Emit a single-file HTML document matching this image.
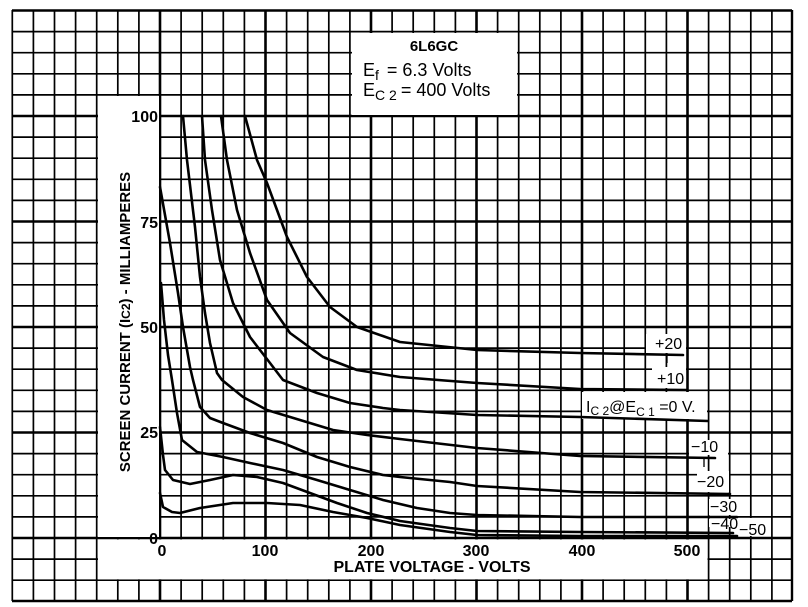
<!DOCTYPE html>
<html><head><meta charset="utf-8"><style>
html,body{margin:0;padding:0;background:#fff}
svg{display:block}
text{font-family:"Liberation Sans",sans-serif;fill:#000}
.b{font-weight:bold}
</style></head><body>
<svg width="808" height="607" viewBox="0 0 808 607" xmlns="http://www.w3.org/2000/svg">
<rect width="808" height="607" fill="#fff"/>
<g stroke="#000" stroke-width="1.7">
<line x1="12.3" y1="10" x2="12.3" y2="601"/><line x1="33.4" y1="10" x2="33.4" y2="601"/><line x1="54.5" y1="10" x2="54.5" y2="601"/><line x1="75.6" y1="10" x2="75.6" y2="601"/><line x1="96.7" y1="10" x2="96.7" y2="601"/><line x1="117.8" y1="10" x2="117.8" y2="601"/><line x1="138.9" y1="10" x2="138.9" y2="601"/>
<line x1="160" y1="10" x2="160" y2="601" stroke-width="2.6"/>
<line x1="181.1" y1="10" x2="181.1" y2="601"/><line x1="202.2" y1="10" x2="202.2" y2="601"/><line x1="223.3" y1="10" x2="223.3" y2="601"/><line x1="244.4" y1="10" x2="244.4" y2="601"/>
<line x1="265.5" y1="10" x2="265.5" y2="601" stroke-width="2.6"/>
<line x1="286.6" y1="10" x2="286.6" y2="601"/><line x1="307.7" y1="10" x2="307.7" y2="601"/><line x1="328.8" y1="10" x2="328.8" y2="601"/><line x1="349.9" y1="10" x2="349.9" y2="601"/>
<line x1="371" y1="10" x2="371" y2="601" stroke-width="2.6"/>
<line x1="392.1" y1="10" x2="392.1" y2="601"/><line x1="413.2" y1="10" x2="413.2" y2="601"/><line x1="434.3" y1="10" x2="434.3" y2="601"/><line x1="455.4" y1="10" x2="455.4" y2="601"/>
<line x1="476.5" y1="10" x2="476.5" y2="601" stroke-width="2.6"/>
<line x1="497.6" y1="10" x2="497.6" y2="601"/><line x1="518.7" y1="10" x2="518.7" y2="601"/><line x1="539.8" y1="10" x2="539.8" y2="601"/><line x1="560.9" y1="10" x2="560.9" y2="601"/>
<line x1="582" y1="10" x2="582" y2="601" stroke-width="2.6"/>
<line x1="603.1" y1="10" x2="603.1" y2="601"/><line x1="624.2" y1="10" x2="624.2" y2="601"/><line x1="645.3" y1="10" x2="645.3" y2="601"/><line x1="666.4" y1="10" x2="666.4" y2="601"/>
<line x1="687.5" y1="10" x2="687.5" y2="601" stroke-width="2.6"/>
<line x1="708.6" y1="10" x2="708.6" y2="601"/><line x1="729.7" y1="10" x2="729.7" y2="601"/><line x1="750.8" y1="10" x2="750.8" y2="601"/><line x1="771.9" y1="10" x2="771.9" y2="601"/>
<line x1="792" y1="10" x2="792" y2="601" stroke-width="2.4"/>
<line x1="12" y1="10.5" x2="792" y2="10.5" stroke-width="2.4"/><line x1="12" y1="31.6" x2="792" y2="31.6"/><line x1="12" y1="52.7" x2="792" y2="52.7"/><line x1="12" y1="73.8" x2="792" y2="73.8"/><line x1="12" y1="94.9" x2="792" y2="94.9"/>
<line x1="12" y1="116" x2="792" y2="116" stroke-width="2.6"/>
<line x1="12" y1="137.1" x2="792" y2="137.1"/><line x1="12" y1="158.2" x2="792" y2="158.2"/><line x1="12" y1="179.3" x2="792" y2="179.3"/><line x1="12" y1="200.4" x2="792" y2="200.4"/>
<line x1="12" y1="221.5" x2="792" y2="221.5" stroke-width="2.6"/>
<line x1="12" y1="242.6" x2="792" y2="242.6"/><line x1="12" y1="263.7" x2="792" y2="263.7"/><line x1="12" y1="284.8" x2="792" y2="284.8"/><line x1="12" y1="305.9" x2="792" y2="305.9"/>
<line x1="12" y1="327" x2="792" y2="327" stroke-width="2.6"/>
<line x1="12" y1="348.1" x2="792" y2="348.1"/><line x1="12" y1="369.2" x2="792" y2="369.2"/><line x1="12" y1="390.3" x2="792" y2="390.3"/><line x1="12" y1="411.4" x2="792" y2="411.4"/>
<line x1="12" y1="432.5" x2="792" y2="432.5" stroke-width="2.6"/>
<line x1="12" y1="453.6" x2="792" y2="453.6"/><line x1="12" y1="474.7" x2="792" y2="474.7"/><line x1="12" y1="495.8" x2="792" y2="495.8"/><line x1="12" y1="516.9" x2="792" y2="516.9"/>
<line x1="12" y1="538" x2="792" y2="538" stroke-width="2.6"/>
<line x1="12" y1="559.1" x2="792" y2="559.1"/><line x1="12" y1="580.2" x2="792" y2="580.2"/><line x1="12" y1="601" x2="792" y2="601" stroke-width="2.4"/>
</g>
<g fill="#fff">
<rect x="98" y="96" width="61" height="441"/>
<rect x="98" y="539.5" width="609.5" height="39.8"/>
<rect x="352" y="33" width="165" height="82"/>
<rect x="646" y="334" width="40" height="19"/>
<rect x="652" y="367" width="34" height="21"/>
<rect x="582" y="392" width="125" height="27"/>
<rect x="689" y="440" width="39" height="15"/>
<rect x="697" y="471" width="32" height="21"/>
<rect x="709" y="499" width="29" height="16"/>
<rect x="709" y="519" width="29" height="8"/>
<rect x="738" y="518" width="32" height="18"/>
</g>
<g fill="none" stroke="#000" stroke-width="2.6" stroke-linejoin="round" stroke-linecap="round">
<path d="M245,116 L257,160 L267,183 L287,237 L307,277 L330,307 L357,327 L400,342 L477,350 L580,353 L683,355"/>
<path d="M221,116 L227,160 L237,210 L250,253 L267,300 L290,333 L323,357 L357,370 L400,377 L477,383 L580,389 L687,390"/>
<path d="M202,116 L205,160 L212,210 L220,260 L233,303 L250,337 L270,363 L283,380 L317,393 L350,403 L383,408 L400,410 L477,415 L580,417 L708,421"/>
<path d="M183,116 L187,160 L195,227 L200,277 L205,313 L210,343 L217,373 L222,380 L243,397 L267,410 L300,420 L333,430 L367,435 L400,439 L477,448 L580,456 L715,458"/>
<path d="M160,187 L170,243 L178,293 L183,327 L190,367 L193,380 L200,407 L210,418 L223,423 L250,433 L283,443 L317,457 L350,467 L383,475 L400,477 L450,482 L477,486 L580,492 L730,494"/>
<path d="M161,283 L164,320 L168,355 L172,380 L177,413 L182,440 L197,452 L223,457 L250,463 L283,470 L317,480 L350,490 L383,500 L417,508 L450,513 L477,515 L580,517 L737,517"/>
<path d="M160,427 L163,455 L165,470 L173,480 L190,484 L210,480 L233,475 L257,477 L283,483 L310,493 L337,503 L367,513 L400,521 L450,528 L477,531 L580,532 L733,533"/>
<path d="M160,493 L163,507 L172,512 L180,513 L200,508 L233,503 L267,503 L300,505 L333,512 L367,518 L400,525 L450,532 L477,535 L580,536 L737,536"/>
</g>
<g stroke="#000" stroke-width="1.3">
<line x1="667" y1="353" x2="667" y2="363"/>
<line x1="704" y1="458" x2="704" y2="467"/>
</g>
<text x="434" y="51" class="b" font-size="15" text-anchor="middle">6L6GC</text>
<text x="363" y="76" font-size="18">E<tspan font-size="14" dy="4">f</tspan><tspan dy="-4" dx="8">=  6.3 Volts</tspan></text>
<text x="363" y="96" font-size="18">E<tspan font-size="14" dy="4">C 2</tspan><tspan dy="-4" dx="4">= 400 Volts</tspan></text>
<text x="655" y="349" font-size="16">+20</text>
<text x="657" y="384" font-size="16">+10</text>
<text x="586" y="412" font-size="16">I<tspan font-size="12" dy="3">C 2</tspan><tspan dy="-3">@E</tspan><tspan font-size="12" dy="4">C 1</tspan><tspan dy="-4"> =0 V.</tspan></text>
<text x="691" y="452" font-size="16">−10</text>
<text x="697" y="487" font-size="16">−20</text>
<text x="710" y="512" font-size="16">−30</text>
<text x="711" y="529" font-size="16">−40</text>
<text x="739" y="535" font-size="16">−50</text>
<g class="b" font-size="16" text-anchor="end">
<text x="158" y="122">100</text>
<text x="158" y="228">75</text>
<text x="158" y="333">50</text>
<text x="158" y="438">25</text>
<text x="158" y="544">0</text>
</g>
<g class="b" font-size="16" text-anchor="middle">
<text x="162" y="556">0</text>
<text x="265" y="556">100</text>
<text x="371" y="556">200</text>
<text x="476" y="556">300</text>
<text x="582" y="556">400</text>
<text x="687" y="556">500</text>
</g>
<text x="432" y="572" class="b" font-size="16" text-anchor="middle">PLATE VOLTAGE - VOLTS</text>
<text transform="translate(130,322) rotate(-90)" class="b" font-size="15" text-anchor="middle">SCREEN CURRENT (I<tspan font-size="12">C2</tspan>) - MILLIAMPERES</text>
</svg>
</body></html>
